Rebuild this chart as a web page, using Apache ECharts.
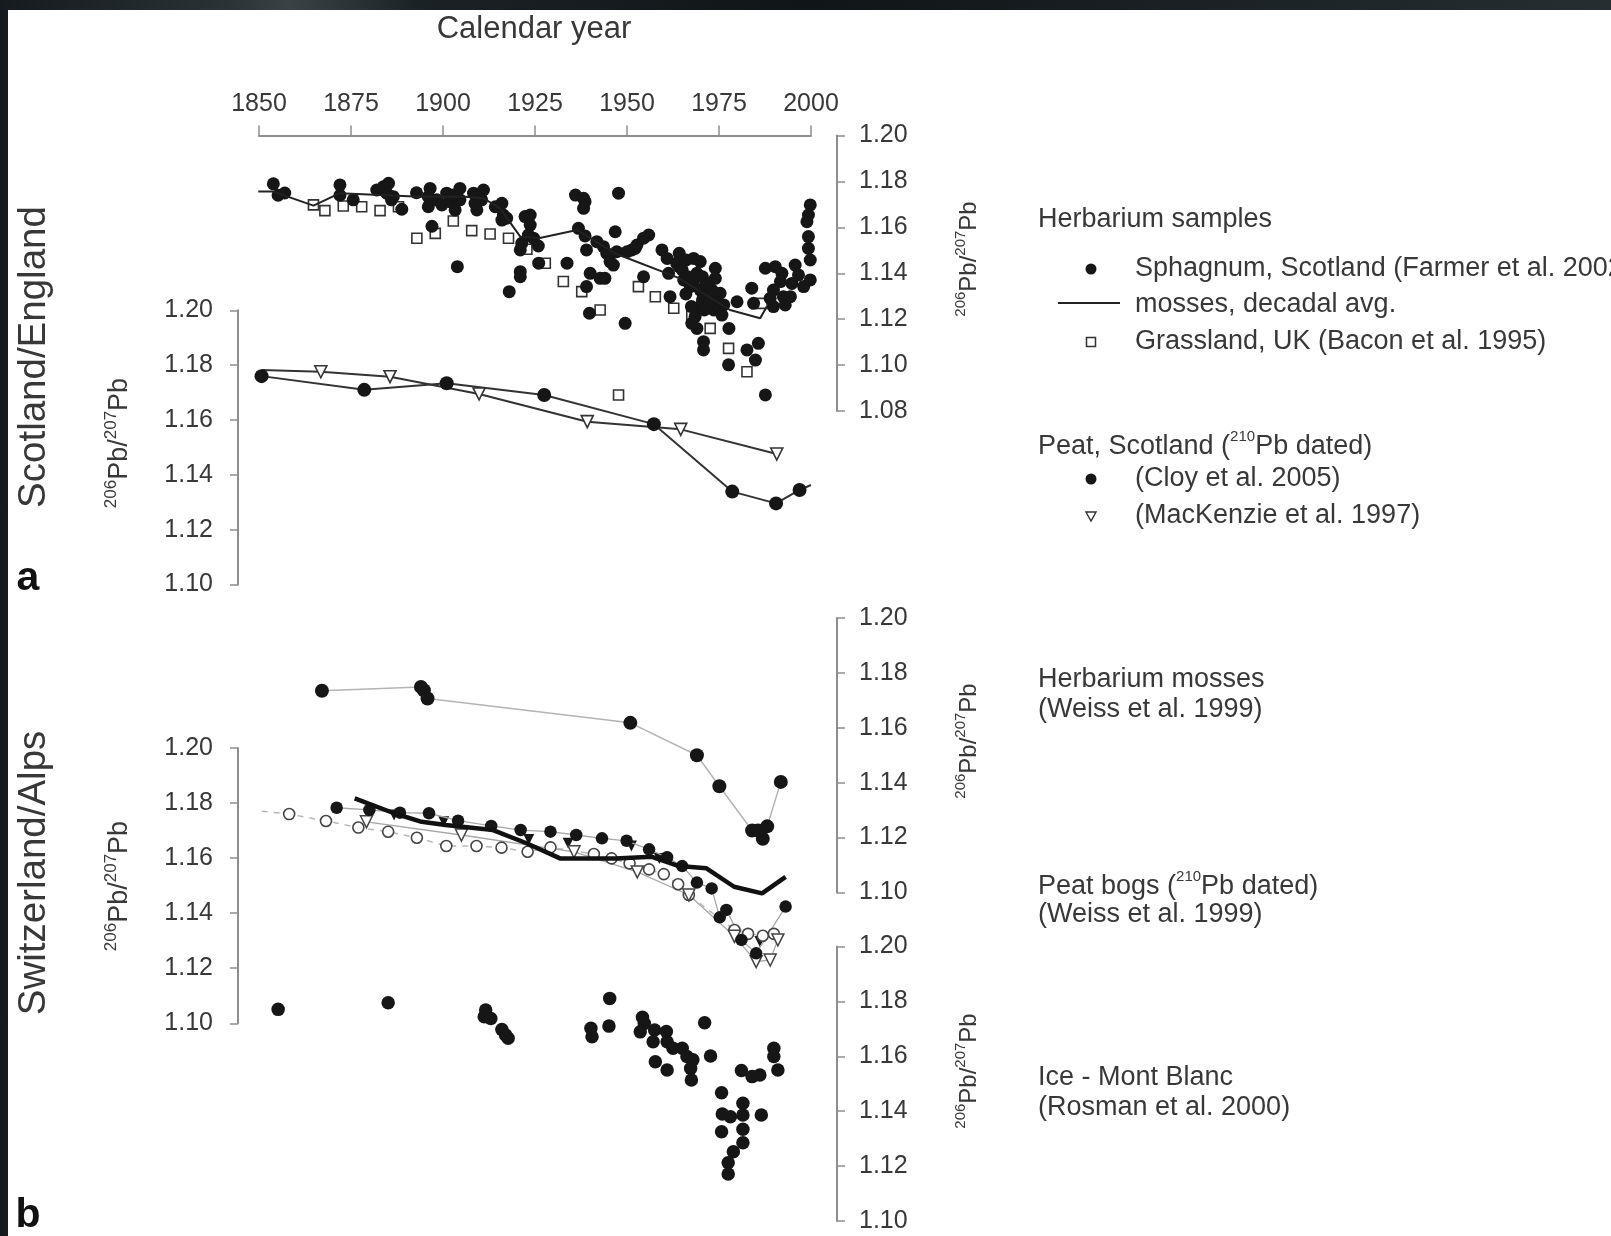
<!DOCTYPE html>
<html>
<head>
<meta charset="utf-8">
<title>206Pb/207Pb records, Scotland/England and Switzerland/Alps</title>
<script src="https://cdn.jsdelivr.net/npm/echarts@6.0.0/dist/echarts.min.js"></script>
<style>
  html, body { margin: 0; padding: 0; }
  body {
    width: 1611px; height: 1236px; overflow: hidden; position: relative;
    background: linear-gradient(90deg, #151b1e 0%, #2a3235 14%, #3a4245 18%, #1b2225 26%, #101517 50%, #1d2427 80%, #262e31 100%);
  }
  #paper { position: absolute; left: 8px; top: 10px; right: 0; bottom: 0; background: #fff; }
  #chart { position: absolute; left: 0; top: 0; width: 1611px; height: 1236px; }
</style>
</head>
<body>
<div id="paper"></div>
<div id="chart"></div>
<script>
// ---------- data: [calendar year, 206Pb/207Pb] ----------

// (a) Scotland/England — herbarium samples (right axis 1.08–1.20)
const sphagnumScotland = [
  [1853.9,1.179],[1855.2,1.174],[1857,1.175],
  [1872,1.1785],[1872,1.174],[1875.6,1.172],
  [1882,1.1763],[1883.8,1.1777],[1885.2,1.1792],[1884.7,1.1749],[1886.5,1.1734],[1886,1.172],
  [1888.8,1.1679],[1892.8,1.1751],
  [1896.5,1.177],[1896,1.1734],[1896,1.169],[1898.3,1.172],[1899.7,1.1698],[1901,1.1749],
  [1901.9,1.1712],[1903.3,1.1676],[1904.6,1.177],[1904.6,1.172],[1902.8,1.1741],
  [1908.3,1.1749],[1908.7,1.1705],[1911,1.1763],[1910.5,1.172],[1909.2,1.1676],
  [1914.2,1.169],[1916,1.1705],[1916.4,1.1654],[1917.3,1.164],[1916,1.1632],
  [1897,1.1605],[1903.9,1.1429],
  [1922.3,1.1647],[1923.7,1.1654],[1923.7,1.161],[1923.2,1.1567],[1924.6,1.1553],[1925.9,1.1519],
  [1921,1.1502],[1921.4,1.1531],[1921,1.1407],[1921,1.1385],[1918,1.132],[1926,1.1444],[1933.7,1.1444],
  [1936,1.1741],[1938.2,1.1727],[1938.6,1.1712],[1938.2,1.1683],[1947.7,1.1749],
  [1936.8,1.1596],[1938.6,1.1563],[1939,1.1502],[1940,1.14],[1942.7,1.1378],[1939,1.1342],[1939.8,1.1226],
  [1946.8,1.1581],[1949.5,1.1182],
  [1941.8,1.1538],[1943.6,1.1516],[1944.5,1.1487],[1945.4,1.1451],[1946.3,1.1436],[1947.2,1.1494],
  [1950,1.1494],[1952.2,1.1509],[1944,1.1378],
  [1951.3,1.1502],[1952.7,1.1523],[1954.5,1.1553],[1955.9,1.1567],[1954.5,1.1385],
  [1959.5,1.1502],[1960.9,1.1465],[1961.3,1.14],[1961.7,1.1298],
  [1964.2,1.1487],[1966.1,1.1458],[1964.2,1.1429],[1968.1,1.1465],[1969.9,1.1451],[1969,1.14],
  [1974,1.1422],[1974,1.1378],[1965.4,1.1371],[1967.2,1.1342],[1969.9,1.1327],[1971.7,1.1298],
  [1973.1,1.1327],[1975.3,1.1313],[1974.4,1.1276],[1976.3,1.1262],[1979.9,1.1276],[1973.6,1.124],
  [1969.9,1.1255],[1968.5,1.1211],[1967.6,1.1182],[1969,1.116],[1975.8,1.1218],[1977.7,1.116],
  [1963.5,1.1444],[1965,1.1415],[1966.5,1.1385],[1968,1.1356],[1970.5,1.1385],[1971.5,1.1356],
  [1972.5,1.1313],[1970.5,1.1284],[1972.5,1.1269],[1971,1.124],[1966,1.131],[1967.5,1.1255],
  [1970.8,1.1102],[1970.8,1.1066],[1977.6,1.1001],
  [1983.9,1.1335],[1982.6,1.1066],[1985.7,1.1095],[1984.9,1.1022],[1987.6,1.087],[1984.4,1.1269],
  [1987.6,1.1422],[1990.3,1.1429],[1992.1,1.14],[1991.7,1.1364],[1989.8,1.1327],[1988.9,1.1291],
  [1989.8,1.1255],[1993,1.1262],[1992.5,1.1298],[1994.4,1.1298],[1994.8,1.1356],[1995.7,1.1436],
  [1996.6,1.1393],[1998,1.1342],[1999.8,1.1371],[1999.8,1.1458],[1999.3,1.1509],[1999.3,1.156],
  [1998.9,1.1625],[1999.3,1.1654],[1999.8,1.1698]
];
const mossDecadalAvg = [
  [1849.8,1.1756],[1853.9,1.1756],[1864.8,1.1695],[1872,1.1749],[1893.8,1.1734],[1905,1.1735],
  [1911,1.1727],[1915.5,1.1683],[1921,1.156],[1926,1.1553],[1936.4,1.1589],[1947,1.1485],
  [1964,1.138],[1978,1.124],[1986.2,1.1204],[1988,1.1255]
];
const grasslandUK = [
  [1864.8,1.1698],[1867.9,1.1673],[1872.9,1.1693],[1877.9,1.169],[1882.9,1.1673],[1887.9,1.169],
  [1892.9,1.1553],[1897.9,1.1574],[1902.8,1.1628],[1907.8,1.1586],[1912.8,1.1571],[1917.8,1.1553],
  [1922.8,1.1505],[1927.8,1.1444],[1932.7,1.1364],[1937.7,1.132],[1942.7,1.124],[1947.7,1.087],
  [1953.1,1.1342],[1957.7,1.1298],[1962.7,1.1248],[1967.6,1.1218],[1972.6,1.116],[1977.6,1.1073],
  [1982.6,1.0971],[1986.7,1.1269]
];

// (a) Scotland/England — 210Pb dated peat (left axis 1.10–1.20)
const peatCloy = [
  [1850.7,1.176],[1878.6,1.171],[1901,1.1734],[1927.5,1.1691],[1957.3,1.1585],
  [1978.6,1.1339],[1990.5,1.1296],[1996.9,1.1345],[2000,1.1363]
];
const peatMacKenzie = [
  [1850.7,1.1782],[1866.8,1.1776],[1885.6,1.1758],[1909.8,1.1695],[1939.2,1.1594],
  [1964.6,1.1566],[1990.7,1.1476]
];

// (b) Switzerland/Alps — herbarium mosses (upper right axis)
const herbariumWeiss = [
  [1867.1,1.1735],[1894,1.1749],[1894.8,1.1737],[1895.8,1.1707],[1950.9,1.1618],[1969,1.15],
  [1975.1,1.1387],[1984,1.1226],[1986.9,1.1196],[1985.6,1.1226],[1988.1,1.1241],[1991.8,1.1403]
];

// (b) Switzerland/Alps — 210Pb dated peat bogs (left axis)
const bogFilled = [
  [1871.1,1.1783],[1880,1.1775],[1888.3,1.1765],[1896.2,1.1763],[1904.1,1.1736],[1913.1,1.1717],
  [1921.1,1.1702],[1929.2,1.1696],[1936.2,1.1684],[1943.2,1.1672],[1949.9,1.1663],[1956,1.1632],
  [1960.9,1.1603],[1965,1.1571],[1969,1.1511],[1973,1.149],[1975.2,1.1385],[1977,1.1412],
  [1981.1,1.1303],[1985.1,1.1254],[1993.1,1.1424]
];
const bogOpen = [
  [1847.5,1.1775],[1858.2,1.176],[1868.2,1.1735],[1877,1.1711],[1885.1,1.1696],[1892.9,1.1674],
  [1900.9,1.1644],[1909.1,1.1644],[1915.9,1.1638],[1923,1.1623],[1929.2,1.1639],[1941,1.1615],
  [1945.8,1.1599],[1950.7,1.1581],[1956,1.1559],[1960,1.1542],[1963.9,1.1505],[1966.8,1.1466],
  [1979.2,1.1339],[1982.9,1.1325],[1986.9,1.1318],[1989.9,1.1325]
];
const bogTriangleOpen = [
  [1879.2,1.1732],[1905,1.1684],[1935.6,1.1623],[1952.8,1.155],[1966.8,1.1466],[1979.2,1.1316],
  [1985.1,1.1224],[1988.9,1.123],[1991,1.1303]
];
const bogTriangleFilled = [
  [1886.7,1.1757],[1900.2,1.1732],[1923.3,1.1668],[1934,1.1654],[1951.2,1.1644],[1958.8,1.1599],
  [1986.1,1.1297]
];
const bogMean = [
  [1876,1.1817],[1886.7,1.1763],[1894.2,1.1732],[1900.7,1.172],[1913.6,1.1702],[1922.7,1.1654],
  [1931.8,1.1599],[1946.9,1.1599],[1956.6,1.1605],[1964.1,1.1571],[1971.6,1.1563],[1979.1,1.1496],
  [1986.7,1.1472],[1993.1,1.1532]
];

// (b) Switzerland/Alps — Mont Blanc ice (lower right axis)
const iceMontBlanc = [
  [1855.2,1.1771],[1885.1,1.1795],[1911.6,1.1769],[1911.2,1.1744],[1913,1.1738],[1916,1.1698],
  [1917.7,1.1666],[1917,1.1678],[1945.3,1.1811],[1940.2,1.1702],[1940.5,1.1671],[1945.1,1.171],
  [1954.2,1.1742],[1954.7,1.172],[1953.6,1.1689],[1957.5,1.1696],[1960.7,1.169],[1957.1,1.1653],
  [1960.9,1.1653],[1962.5,1.1629],[1965,1.1629],[1957.7,1.158],[1960.9,1.155],[1966.3,1.1599],
  [1967.9,1.1587],[1967.3,1.1556],[1967.5,1.1514],[1971.1,1.1722],[1972.7,1.1601],[1975.7,1.1467],
  [1975.9,1.139],[1978.1,1.138],[1975.7,1.1325],[1981.5,1.1429],[1981.5,1.1386],[1981.5,1.1334],
  [1981.5,1.1285],[1978.9,1.1252],[1977.5,1.1212],[1977.5,1.1171],[1986.5,1.1386],[1981.1,1.1548],
  [1984,1.1526],[1986.1,1.1532],[1989.9,1.1629],[1989.9,1.1599],[1991,1.155]
];

// axis ticks
const yearTicks = { min: 1850, max: 2000, step: 25 };
const ratioStep = 0.02;

// ---------- styling ----------
const FONT = '"Liberation Sans", Arial, Helvetica, sans-serif';
const INK = '#161616';
const TEXT = '#383838';
const AXIS = '#8e8e8e';

const plotLeft = 259, plotWidth = 552;
const panels = [
  { top: 135.6, height: 275.4, min: 1.08, side: 'right' },  // a: herbarium
  { top: 310.3, height: 274.3, min: 1.10, side: 'left'  },  // a: peat
  { top: 618.0, height: 274.5, min: 1.10, side: 'right' },  // b: herbarium mosses
  { top: 748.0, height: 275.3, min: 1.10, side: 'left'  },  // b: peat bogs
  { top: 946.5, height: 274.5, min: 1.10, side: 'right' }   // b: ice
];

const grid = panels.map(p => ({
  left: plotLeft, width: plotWidth, top: p.top, height: p.height,
  outerBoundsMode: 'none', containLabel: false
}));

const xAxis = panels.map((p, i) => ({
  gridIndex: i, type: 'value', position: 'top',
  min: yearTicks.min, max: yearTicks.max, interval: yearTicks.step,
  show: i === 0,
  axisLine: { show: true, onZero: false, lineStyle: { color: AXIS, width: 2 } },
  axisTick: { show: true, length: 10, lineStyle: { color: AXIS, width: 1.5 } },
  axisLabel: { margin: 19, fontSize: 25, fontFamily: FONT, color: TEXT, formatter: v => String(v) },
  splitLine: { show: false }
}));

const yAxis = panels.map((p, i) => ({
  gridIndex: i, type: 'value', position: p.side,
  offset: p.side === 'right' ? 26 : 21,
  min: p.min, max: 1.20, interval: ratioStep,
  axisLine: { show: true, lineStyle: { color: AXIS, width: 2 } },
  axisTick: { show: true, length: 8, lineStyle: { color: AXIS, width: 1.5 } },
  axisLabel: {
    margin: p.side === 'right' ? 22 : 25, fontSize: 25, fontFamily: FONT, color: TEXT,
    formatter: v => v.toFixed(2)
  },
  splitLine: { show: false }
}));

function lastNoSymbol(arr) {
  return arr.map((d, k) => k === arr.length - 1 ? { value: d, symbol: 'none' } : d);
}
function firstNoSymbol(arr) {
  return arr.map((d, k) => k === 0 ? { value: d, symbol: 'none' } : d);
}

const solid = { color: INK, opacity: 1 };

const series = [
  { name: 'Grassland, UK (Bacon et al. 1995)', type: 'scatter', xAxisIndex: 0, yAxisIndex: 0,
    data: grasslandUK, symbol: 'rect', symbolSize: 10,
    itemStyle: { color: '#fff', borderColor: '#333', borderWidth: 1.6, opacity: 1 } },
  { name: 'mosses, decadal avg.', type: 'line', xAxisIndex: 0, yAxisIndex: 0, clip: false,
    data: mossDecadalAvg, showSymbol: false, symbol: 'none',
    lineStyle: { color: '#222', width: 2 } },
  { name: 'Sphagnum, Scotland (Farmer et al. 2002)', type: 'scatter', xAxisIndex: 0, yAxisIndex: 0,
    data: sphagnumScotland, symbol: 'circle', symbolSize: 13, itemStyle: solid },

  { name: '(MacKenzie et al. 1997)', type: 'line', xAxisIndex: 1, yAxisIndex: 1, clip: false,
    data: firstNoSymbol(peatMacKenzie), symbol: 'triangle', symbolRotate: 180, symbolSize: 12,
    itemStyle: { color: '#fff', borderColor: '#333', borderWidth: 1.6 },
    lineStyle: { color: '#333', width: 2 } },
  { name: '(Cloy et al. 2005)', type: 'line', xAxisIndex: 1, yAxisIndex: 1, clip: false,
    data: lastNoSymbol(peatCloy), symbol: 'circle', symbolSize: 14,
    itemStyle: solid, lineStyle: { color: '#333', width: 2 } },

  { name: 'Herbarium mosses (Weiss et al. 1999)', type: 'line', xAxisIndex: 2, yAxisIndex: 2, clip: false,
    data: herbariumWeiss, symbol: 'circle', symbolSize: 14,
    itemStyle: solid, lineStyle: { color: '#b4b4b4', width: 1.5 } },

  { name: 'Peat bogs, open circles', type: 'line', xAxisIndex: 3, yAxisIndex: 3, clip: false,
    data: firstNoSymbol(bogOpen), symbol: 'circle', symbolSize: 11,
    itemStyle: { color: '#fff', borderColor: '#444', borderWidth: 1.6 },
    lineStyle: { color: '#b8b8b8', width: 1.5, type: [6, 6] } },
  { name: 'Peat bogs, open triangles', type: 'line', xAxisIndex: 3, yAxisIndex: 3, clip: false,
    data: bogTriangleOpen, symbol: 'triangle', symbolRotate: 180, symbolSize: 12,
    itemStyle: { color: '#fff', borderColor: '#444', borderWidth: 1.5 },
    lineStyle: { color: '#a8a8a8', width: 1.3 } },
  { name: 'Peat bogs, filled circles', type: 'line', xAxisIndex: 3, yAxisIndex: 3, clip: false,
    data: bogFilled, symbol: 'circle', symbolSize: 12.5,
    itemStyle: solid, lineStyle: { color: '#a8a8a8', width: 1.3 } },
  { name: 'Peat bogs, filled triangles', type: 'scatter', xAxisIndex: 3, yAxisIndex: 3,
    data: bogTriangleFilled, symbol: 'triangle', symbolRotate: 180, symbolSize: 11,
    itemStyle: solid },
  { name: 'Peat bogs, mean', type: 'line', xAxisIndex: 3, yAxisIndex: 3, clip: false,
    data: bogMean, symbol: 'none', lineStyle: { color: '#111', width: 4.5 }, z: 5 },

  { name: 'Ice - Mont Blanc (Rosman et al. 2000)', type: 'scatter', xAxisIndex: 4, yAxisIndex: 4,
    data: iceMontBlanc, symbol: 'circle', symbolSize: 13.5, itemStyle: solid }
];
series.forEach(s => { s.animation = false; s.silent = true; });

// ---------- free text and key ----------
function txt(x, y, text, size, opts = {}) {
  return {
    type: 'text', x, y, rotation: opts.rotation || 0, silent: true,
    style: {
      text, font: (opts.weight || 'normal') + ' ' + size + 'px ' + FONT,
      fill: opts.fill || TEXT, align: opts.align || 'left', verticalAlign: 'middle',
      rich: opts.rich
    }
  };
}
function supRich(main, sup) {
  return {
    n: { fontSize: main, fontFamily: FONT, fill: TEXT, lineHeight: main + 4, verticalAlign: 'bottom' },
    s: { fontSize: sup, fontFamily: FONT, fill: TEXT, lineHeight: main + 4, verticalAlign: 'top' }
  };
}
const ratioTitle = '{s|206}{n|Pb/}{s|207}{n|Pb}';
function ratioLabel(x, y, main, sup) {
  return txt(x, y, ratioTitle, main, { rotation: Math.PI / 2, align: 'center', rich: supRich(main, sup) });
}

const keyX = 1038, keyIconX = 1091, keyTextX = 1135, keyFont = 27;
const graphic = [
  txt(534, 29, 'Calendar year', 31, { align: 'center' }),
  txt(34, 357, 'Scotland/England', 38.5, { rotation: Math.PI / 2, align: 'center' }),
  txt(34, 873, 'Switzerland/Alps', 38.5, { rotation: Math.PI / 2, align: 'center' }),
  txt(28, 579, 'a', 41, { weight: 'bold', align: 'center', fill: '#111' }),
  txt(28, 1216, 'b', 41, { weight: 'bold', align: 'center', fill: '#111' }),

  ratioLabel(967, 259, 24, 15),
  ratioLabel(118, 443, 27, 17),
  ratioLabel(967, 741, 24, 15),
  ratioLabel(118, 886, 27, 17),
  ratioLabel(967, 1071, 24, 15),

  txt(keyX, 220, 'Herbarium samples', keyFont),
  { type: 'circle', shape: { cx: keyIconX, cy: 269, r: 5.5 }, style: { fill: INK }, silent: true },
  txt(keyTextX, 269, 'Sphagnum, Scotland (Farmer et al. 2002)', keyFont),
  { type: 'line', shape: { x1: 1058, y1: 303, x2: 1120, y2: 303 }, style: { stroke: '#222', lineWidth: 2 }, silent: true },
  txt(keyTextX, 305, 'mosses, decadal avg.', keyFont),
  { type: 'rect', shape: { x: keyIconX - 4.5, y: 342 - 4.5, width: 9, height: 9 }, style: { fill: '#fff', stroke: '#333', lineWidth: 1.5 }, silent: true },
  txt(keyTextX, 342, 'Grassland, UK (Bacon et al. 1995)', keyFont),

  txt(keyX, 445, '{n|Peat, Scotland (}{s|210}{n|Pb dated)}', keyFont, { rich: supRich(keyFont, 15) }),
  { type: 'circle', shape: { cx: keyIconX, cy: 479, r: 5.5 }, style: { fill: INK }, silent: true },
  txt(keyTextX, 479, '(Cloy et al. 2005)', keyFont),
  { type: 'polygon', shape: { points: [[keyIconX - 5, 512], [keyIconX + 5, 512], [keyIconX, 521]] }, style: { fill: '#fff', stroke: '#333', lineWidth: 1.4 }, silent: true },
  txt(keyTextX, 516, '(MacKenzie et al. 1997)', keyFont),

  txt(keyX, 680, 'Herbarium mosses', keyFont),
  txt(keyX, 710, '(Weiss et al. 1999)', keyFont),
  txt(keyX, 885, '{n|Peat bogs (}{s|210}{n|Pb dated)}', keyFont, { rich: supRich(keyFont, 15) }),
  txt(keyX, 915, '(Weiss et al. 1999)', keyFont),
  txt(keyX, 1078, 'Ice - Mont Blanc', keyFont),
  txt(keyX, 1108, '(Rosman et al. 2000)', keyFont)
];

const chart = echarts.init(document.getElementById('chart'), null, { renderer: 'canvas' });
chart.setOption({
  animation: false,
  backgroundColor: 'transparent',
  textStyle: { fontFamily: FONT },
  grid, xAxis, yAxis, series, graphic
});
</script>
</body>
</html>
